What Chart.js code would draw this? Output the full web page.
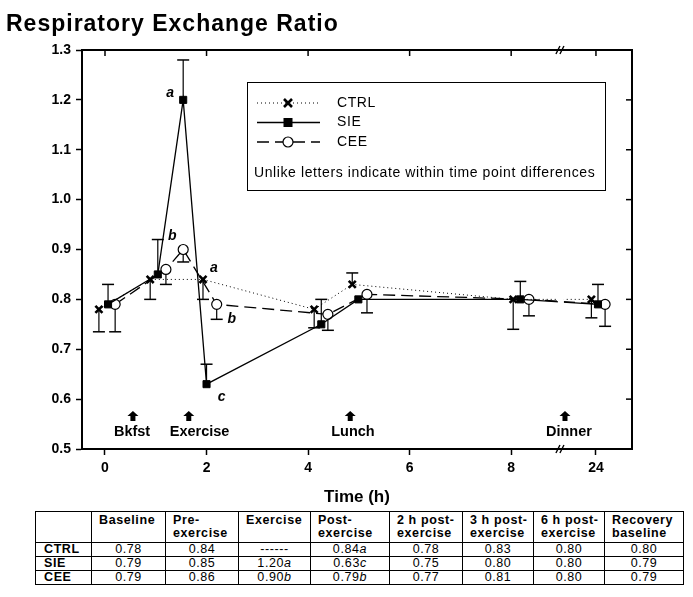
<!DOCTYPE html>
<html>
<head>
<meta charset="utf-8">
<title>Respiratory Exchange Ratio</title>
<script src="https://cdn.jsdelivr.net/npm/chart.js@4.4.0/dist/chart.umd.min.js"></script>
<style>
  body { margin: 0; background: #fff; font-family: Arial, "Liberation Sans", sans-serif; }
  #wrap { position: relative; width: 693px; height: 597px; }
  #rer { position: absolute; left: 0; top: 0; }
  #summary {
    position: absolute; left: 35px; top: 511px;
    border-collapse: collapse; table-layout: fixed;
    font-size: 12.5px; letter-spacing: 0.6px; color: #000;
    border: 1.5px solid #000;
  }
  #summary th, #summary td { border: 1px solid #000; padding: 0; line-height: 13px; }
  #summary thead th { font-weight: bold; text-align: left; padding: 2px 0 1px 7px; vertical-align: top; height: 27px; }
  #summary tbody th { font-weight: bold; text-align: left; padding-left: 8px; }
  #summary tbody td { text-align: center; }
</style>
</head>
<body>
<div id="wrap">
  <canvas id="rer" width="693" height="508"></canvas>
  <table id="summary"></table>
</div>
<script>
// Time points (table columns)
const timePoints = ["Baseline", "Pre-\nexercise", "Exercise", "Post-\nexercise",
  "2 h post-\nexercise", "3 h post-\nexercise", "6 h post-\nexercise", "Recovery\nbaseline"];

// Mean RER per group (null = not measured)
const ctrlMeans = [0.78, 0.84, null, 0.84, 0.78, 0.83, 0.80, 0.80];
const sieMeans = [0.79, 0.85, 1.20, 0.63, 0.75, 0.80, 0.80, 0.79];
const ceeMeans = [0.79, 0.86, 0.90, 0.79, 0.77, 0.81, 0.80, 0.79];

// Letters for within time point differences
const ctrlLetters = ["", "", "", "a", "", "", "", ""];
const sieLetters = ["", "", "a", "c", "", "", "", ""];
const ceeLetters = ["", "", "b", "b", "", "", "", ""];

// Sampling time on the axis (h); 24 h sits right of the axis break
const ctrlTime = [-0.12, 0.89, 1.54, 1.93, 4.12, 4.87, 8.04, 9.58];
const sieTime = [0.06, 1.04, 1.54, 2.0, 4.26, 4.99, 8.18, 9.71];
const ceeTime = [0.2, 1.2, 1.54, 2.2, 4.39, 5.16, 8.35, 9.85];

// End of each (one-sided) error bar
const ctrlErrEnd = [0.735, 0.80, null, 0.80, 0.743, 0.853, 0.74, 0.763];
const sieErrEnd = [0.83, 0.92, 1.28, 0.67, 0.80, null, 0.836, 0.83];
const ceeErrEnd = [0.735, 0.83, 0.875, 0.76, 0.738, 0.773, 0.767, 0.746];

// Axis ticks
const xTickPos = [0, 2, 4, 6, 8, 9.67];
const xTickLabels = ["0", "2", "4", "6", "8", "24"];
const xBreakPos = 8.98;

// Meals / exercise markers
const mealLabels = ["Bkfst", "Exercise", "Lunch", "Dinner"];
const mealPos = [0.55, 1.65, 4.83, 9.06];

const FONT = "Arial, 'Liberation Sans', sans-serif";

function points(times, means) {
  return times.map((t, i) => ({ x: t, y: means[i] }));
}

const series = [
  {
    label: "CTRL", data: points(ctrlTime, ctrlMeans), errEnd: ctrlErrEnd, letters: ctrlLetters,
    borderColor: "#000", borderWidth: 1, borderDash: [1, 3], spanGaps: true,
    pointStyle: "crossRot", pointRadius: 5, pointBorderWidth: 2.6,
    pointBorderColor: "#000", pointBackgroundColor: "#000",
  },
  {
    label: "SIE", data: points(sieTime, sieMeans), errEnd: sieErrEnd, letters: sieLetters,
    borderColor: "#000", borderWidth: 1.3,
    pointStyle: "rect", pointRadius: 5, pointBorderWidth: 1,
    pointBorderColor: "#000", pointBackgroundColor: "#000",
  },
  {
    label: "CEE", data: points(ceeTime, ceeMeans), errEnd: ceeErrEnd, letters: ceeLetters,
    borderColor: "#000", borderWidth: 1.3, borderDash: [12, 6],
    pointStyle: "circle", pointRadius: 5, pointBorderWidth: 1.2,
    pointBorderColor: "#000", pointBackgroundColor: "#fff",
  },
];

// letter offsets (px) from its point
const letterOffsets = {
  "SIE-2": [-13, -7], "CEE-2": [-11, -13], "CTRL-3": [11, -11],
  "CEE-3": [15, 15], "SIE-3": [15, 13],
};

function drawMarker(ctx, style, x, y) {
  ctx.save();
  ctx.setLineDash([]);
  ctx.strokeStyle = "#000";
  if (style === "crossRot") {
    ctx.lineWidth = 2.6;
    ctx.beginPath();
    ctx.moveTo(x - 4, y - 4); ctx.lineTo(x + 4, y + 4);
    ctx.moveTo(x + 4, y - 4); ctx.lineTo(x - 4, y + 4);
    ctx.stroke();
  } else if (style === "rect") {
    ctx.fillStyle = "#000";
    ctx.fillRect(x - 4.5, y - 4.5, 9, 9);
  } else {
    ctx.fillStyle = "#fff";
    ctx.lineWidth = 1.2;
    ctx.beginPath();
    ctx.arc(x, y, 5, 0, Math.PI * 2);
    ctx.fill();
    ctx.stroke();
  }
  ctx.restore();
}

const rerDecor = {
  id: "rerDecor",
  beforeDatasetsDraw(chart) {
    const { ctx, scales: { x, y } } = chart;
    ctx.save();
    ctx.strokeStyle = "#000";
    chart.data.datasets.forEach((ds) => {
      ds.data.forEach((p, j) => {
        const end = ds.errEnd[j];
        if (p.y === null || end === null) return;
        const px = x.getPixelForValue(p.x);
        const py = y.getPixelForValue(p.y);
        const pe = y.getPixelForValue(end);
        ctx.lineWidth = 1.2;
        ctx.beginPath();
        ctx.moveTo(px, py); ctx.lineTo(px, pe);
        ctx.stroke();
        ctx.lineWidth = 1.5;
        ctx.beginPath();
        ctx.moveTo(px - 6, pe); ctx.lineTo(px + 6, pe);
        ctx.stroke();
      });
    });
    ctx.restore();
  },
  afterDatasetsDraw(chart) {
    const { ctx, chartArea: ca, scales: { x, y } } = chart;
    ctx.save();

    // axis break gap in the lines
    const bx = x.getPixelForValue(xBreakPos);
    ctx.fillStyle = "#fff";
    ctx.fillRect(bx - 3, ca.top + 3, 6, ca.bottom - ca.top - 6);

    // top and right frame with inward ticks
    ctx.strokeStyle = "#000";
    ctx.lineWidth = 2;
    ctx.beginPath();
    ctx.moveTo(ca.left, ca.top); ctx.lineTo(ca.right, ca.top); ctx.lineTo(ca.right, ca.bottom);
    ctx.stroke();
    ctx.lineWidth = 1.5;
    x.ticks.forEach((t) => {
      const tx = x.getPixelForValue(t.value);
      ctx.beginPath(); ctx.moveTo(tx, ca.top); ctx.lineTo(tx, ca.top + 6); ctx.stroke();
    });
    y.ticks.forEach((t) => {
      const ty = y.getPixelForValue(t.value);
      ctx.beginPath(); ctx.moveTo(ca.right - 6, ty); ctx.lineTo(ca.right, ty); ctx.stroke();
    });

    // break marks on top and bottom axes
    ctx.lineWidth = 1.4;
    [ca.top, ca.bottom].forEach((ay) => {
      for (let k = 0; k < 2; k++) {
        ctx.beginPath();
        ctx.moveTo(bx - 5 + k * 4, ay + 4);
        ctx.lineTo(bx - 1 + k * 4, ay - 4);
        ctx.stroke();
      }
    });

    // letters
    ctx.fillStyle = "#000";
    ctx.font = "italic bold 14px " + FONT;
    ctx.textAlign = "center";
    ctx.textBaseline = "middle";
    chart.data.datasets.forEach((ds) => {
      ds.letters.forEach((l, j) => {
        if (!l) return;
        const off = letterOffsets[ds.label + "-" + j] || [10, -10];
        const p = ds.data[j];
        ctx.fillText(l, x.getPixelForValue(p.x) + off[0], y.getPixelForValue(p.y) + off[1]);
      });
    });

    // meal arrows
    ctx.font = "bold 14.5px " + FONT;
    ctx.textAlign = "left";
    mealLabels.forEach((label, i) => {
      const mx = x.getPixelForValue(mealPos[i]);
      const tip = ca.bottom - 38;
      ctx.beginPath();
      ctx.moveTo(mx, tip);
      ctx.lineTo(mx + 5.5, tip + 5);
      ctx.lineTo(mx + 2.5, tip + 5);
      ctx.lineTo(mx + 2.5, tip + 10);
      ctx.lineTo(mx - 2.5, tip + 10);
      ctx.lineTo(mx - 2.5, tip + 5);
      ctx.lineTo(mx - 5.5, tip + 5);
      ctx.closePath();
      ctx.fill();
      ctx.fillText(label, mx - 19, ca.bottom - 17);
    });
    ctx.restore();
  },
  afterDraw(chart) {
    const { ctx, chartArea: ca } = chart;
    ctx.save();
    // title
    ctx.fillStyle = "#000";
    ctx.font = "bold 23px " + FONT;
    ctx.letterSpacing = "1px";
    ctx.textAlign = "left";
    ctx.textBaseline = "alphabetic";
    ctx.fillText("Respiratory Exchange Ratio", 6, 31);
    ctx.letterSpacing = "0.6px";

    // legend box
    const lx = ca.left + 165, ly = ca.top + 32, lw = 358, lh = 108;
    ctx.fillStyle = "#fff";
    ctx.fillRect(lx, ly, lw, lh);
    ctx.strokeStyle = "#000";
    ctx.lineWidth = 1;
    ctx.strokeRect(lx + 0.5, ly + 0.5, lw, lh);
    ctx.font = "14px " + FONT;
    ctx.textBaseline = "middle";
    chart.data.datasets.forEach((ds, i) => {
      const cy = ly + 21 + i * 19.5;
      ctx.save();
      ctx.lineWidth = ds.borderWidth;
      ctx.setLineDash(ds.borderDash || []);
      ctx.beginPath();
      ctx.moveTo(lx + 10, cy); ctx.lineTo(lx + 73, cy);
      ctx.stroke();
      ctx.restore();
      drawMarker(ctx, ds.pointStyle, lx + 41, cy);
      ctx.fillStyle = "#000";
      ctx.fillText(ds.label, lx + 90, cy);
    });
    ctx.fillText("Unlike letters indicate within time point differences", lx + 7, ly + 91);
    ctx.restore();
  },
};

new Chart(document.getElementById("rer"), {
  type: "line",
  data: { datasets: series },
  options: {
    responsive: false,
    animation: false,
    devicePixelRatio: 1,
    layout: { padding: { top: 50, right: 61, left: 0, bottom: 0 } },
    plugins: { legend: { display: false }, title: { display: false }, tooltip: { enabled: false } },
    scales: {
      x: {
        type: "linear",
        min: -0.453,
        max: 10.38,
        afterBuildTicks: (scale) => { scale.ticks = xTickPos.map((v) => ({ value: v })); },
        afterFit: (scale) => { scale.height = 59; },
        grid: { drawOnChartArea: false, color: "#000", tickLength: 6, tickWidth: 1.5 },
        border: { color: "#000", width: 2 },
        ticks: {
          color: "#000", padding: 5, maxRotation: 0, autoSkip: false,
          font: { family: FONT, size: 14, weight: "bold" },
          callback: (v, i) => xTickLabels[i],
        },
        title: {
          display: true, text: "Time (h)", color: "#000", padding: 0,
          font: { family: FONT, size: 17, weight: "bold" },
        },
      },
      y: {
        min: 0.5,
        max: 1.3,
        afterFit: (scale) => { scale.width = 82; },
        grid: { drawOnChartArea: false, color: "#000", tickLength: 6, tickWidth: 1.5 },
        border: { color: "#000", width: 2 },
        ticks: {
          stepSize: 0.1, color: "#000", padding: 5,
          font: { family: FONT, size: 14, weight: "bold" },
          callback: (v) => v.toFixed(1),
        },
      },
    },
  },
  plugins: [rerDecor],
});

// summary table
const colWidths = [56, 74, 73, 72, 79, 73, 71, 71, 79];
const groupNames = ["CTRL", "SIE", "CEE"];
const groupMeans = [ctrlMeans, sieMeans, ceeMeans];
const groupLetters = [ctrlLetters, sieLetters, ceeLetters];

const table = document.getElementById("summary");
let html = "<colgroup>" + colWidths.map((w) => `<col style="width:${w}px">`).join("") + "</colgroup>";
html += "<thead><tr><th></th>" + timePoints.map((t) => `<th>${t.replace("\n", "<br>")}</th>`).join("") + "</tr></thead><tbody>";
groupNames.forEach((g, r) => {
  html += `<tr><th>${g}</th>`;
  groupMeans[r].forEach((m, c) => {
    const txt = m === null ? "------" : m.toFixed(2) + (groupLetters[r][c] ? `<i>${groupLetters[r][c]}</i>` : "");
    html += `<td>${txt}</td>`;
  });
  html += "</tr>";
});
html += "</tbody>";
table.innerHTML = html;
</script>
</body>
</html>
